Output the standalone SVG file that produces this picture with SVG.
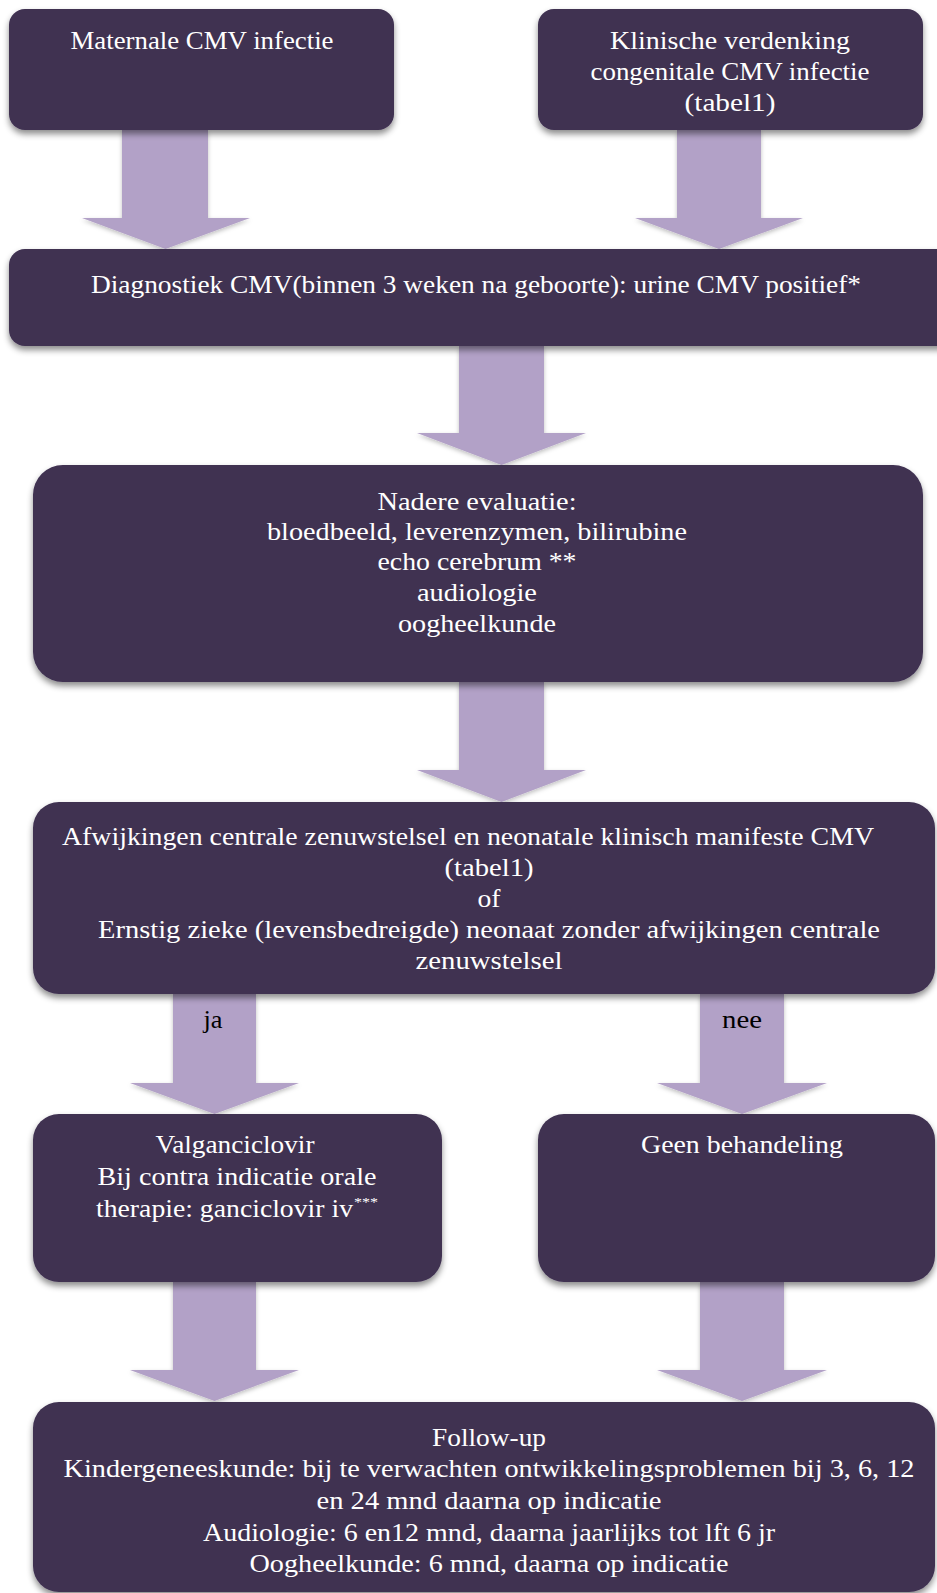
<svg xmlns="http://www.w3.org/2000/svg" width="937" height="1593" viewBox="0 0 937 1593">
<style>
.box{fill:#3F3151;filter:url(#sh)}
.arr{fill:#B2A1C7;filter:url(#sha)}
.t{font-family:"Liberation Serif","Times New Roman",serif;font-size:26px;fill:#ffffff;text-anchor:middle}
.lbl{font-family:"Liberation Serif","Times New Roman",serif;font-size:26px;fill:#000000;text-anchor:middle}
.sup{font-family:"Liberation Serif","Times New Roman",serif;font-size:13px;fill:#ffffff}
</style>
<defs>
<filter id="sh" x="-5%" y="-10%" width="110%" height="125%">
<feDropShadow dx="0" dy="4" stdDeviation="3" flood-color="#000000" flood-opacity="0.45"/>
</filter>
<filter id="sha" x="-10%" y="-10%" width="120%" height="125%">
<feDropShadow dx="0" dy="2" stdDeviation="2" flood-color="#000000" flood-opacity="0.25"/>
</filter>
</defs>
<g id="connectors">
<path class="arr" d="M122,130 H208 V218 H250 L165.5,249 L82,218 H122 Z"/>
<path class="arr" d="M677,130 H761 V218 H803 L719,249 L635,218 H677 Z"/>
<path class="arr" d="M459,346 H544 V433 H586 L501.5,465 L417,433 H459 Z"/>
<path class="arr" d="M459,682 H544 V770 H586 L501.5,802 L417,770 H459 Z"/>
<path class="arr" d="M173,994 H256 V1083 H299 L214.5,1114 L130,1083 H173 Z"/>
<path class="arr" d="M700,994 H784 V1083 H827 L742,1114 L657,1083 H700 Z"/>
<path class="arr" d="M173,1282 H256 V1370 H299 L214.5,1401 L130,1370 H173 Z"/>
<path class="arr" d="M700,1282 H784 V1370 H827 L742,1401 L657,1370 H700 Z"/>
<text class="lbl" x="213" y="1028" textLength="19" lengthAdjust="spacingAndGlyphs">ja</text>
<text class="lbl" x="742" y="1028" textLength="40" lengthAdjust="spacingAndGlyphs">nee</text>
</g>
<g id="maternale">
<rect class="box" x="9" y="9" width="385" height="121" rx="16"/>
<text class="t" x="202" y="49" textLength="263" lengthAdjust="spacingAndGlyphs">Maternale CMV infectie</text>
</g>
<g id="klinische">
<rect class="box" x="538" y="9" width="385" height="121" rx="16"/>
<text class="t" x="730" y="49" textLength="240" lengthAdjust="spacingAndGlyphs">Klinische verdenking</text>
<text class="t" x="730" y="80" textLength="279" lengthAdjust="spacingAndGlyphs">congenitale CMV infectie</text>
<text class="t" x="730" y="111" textLength="91" lengthAdjust="spacingAndGlyphs">(tabel1)</text>
</g>
<g id="diagnostiek">
<rect class="box" x="9" y="249" width="960" height="97" rx="16"/>
<text class="t" x="476" y="293" textLength="770" lengthAdjust="spacingAndGlyphs">Diagnostiek CMV(binnen 3 weken na geboorte): urine CMV positief*</text>
</g>
<g id="nadere">
<rect class="box" x="33" y="465" width="890" height="217" rx="30"/>
<text class="t" x="477" y="510" textLength="199" lengthAdjust="spacingAndGlyphs">Nadere evaluatie:</text>
<text class="t" x="477" y="540" textLength="420" lengthAdjust="spacingAndGlyphs">bloedbeeld, leverenzymen, bilirubine</text>
<text class="t" x="477" y="570" textLength="199" lengthAdjust="spacingAndGlyphs">echo cerebrum **</text>
<text class="t" x="477" y="601" textLength="120" lengthAdjust="spacingAndGlyphs">audiologie</text>
<text class="t" x="477" y="632" textLength="158" lengthAdjust="spacingAndGlyphs">oogheelkunde</text>
</g>
<g id="afwijkingen">
<rect class="box" x="33" y="802" width="902" height="192" rx="26"/>
<text class="t" x="468" y="845" textLength="812" lengthAdjust="spacingAndGlyphs">Afwijkingen centrale zenuwstelsel en neonatale klinisch manifeste CMV</text>
<text class="t" x="489" y="876" textLength="89" lengthAdjust="spacingAndGlyphs">(tabel1)</text>
<text class="t" x="489" y="907" textLength="23" lengthAdjust="spacingAndGlyphs">of</text>
<text class="t" x="489" y="938" textLength="782" lengthAdjust="spacingAndGlyphs">Ernstig zieke (levensbedreigde) neonaat zonder afwijkingen centrale</text>
<text class="t" x="489" y="969" textLength="147" lengthAdjust="spacingAndGlyphs">zenuwstelsel</text>
</g>
<g id="valganciclovir">
<rect class="box" x="33" y="1114" width="409" height="168" rx="26"/>
<text class="t" x="235" y="1153" textLength="159" lengthAdjust="spacingAndGlyphs">Valganciclovir</text>
<text class="t" x="237" y="1185" textLength="279" lengthAdjust="spacingAndGlyphs">Bij contra indicatie orale</text>
<text class="t" x="96" y="1217" style="text-anchor:start" textLength="257" lengthAdjust="spacingAndGlyphs">therapie: ganciclovir iv</text>
<text class="sup" x="354" y="1206" textLength="24" lengthAdjust="spacingAndGlyphs">***</text>
</g>
<g id="geen">
<rect class="box" x="538" y="1114" width="397" height="168" rx="26"/>
<text class="t" x="742" y="1153" textLength="202" lengthAdjust="spacingAndGlyphs">Geen behandeling</text>
</g>
<g id="followup">
<rect class="box" x="33" y="1402" width="902" height="190" rx="26"/>
<text class="t" x="489" y="1446" textLength="114" lengthAdjust="spacingAndGlyphs">Follow-up</text>
<text class="t" x="489" y="1477" textLength="851" lengthAdjust="spacingAndGlyphs">Kindergeneeskunde: bij te verwachten ontwikkelingsproblemen bij 3, 6, 12</text>
<text class="t" x="489" y="1509" textLength="345" lengthAdjust="spacingAndGlyphs">en 24 mnd daarna op indicatie</text>
<text class="t" x="489" y="1541" textLength="572" lengthAdjust="spacingAndGlyphs">Audiologie: 6 en12 mnd, daarna jaarlijks tot lft 6 jr</text>
<text class="t" x="489" y="1572" textLength="479" lengthAdjust="spacingAndGlyphs">Oogheelkunde: 6 mnd, daarna op indicatie</text>
</g>
</svg>
